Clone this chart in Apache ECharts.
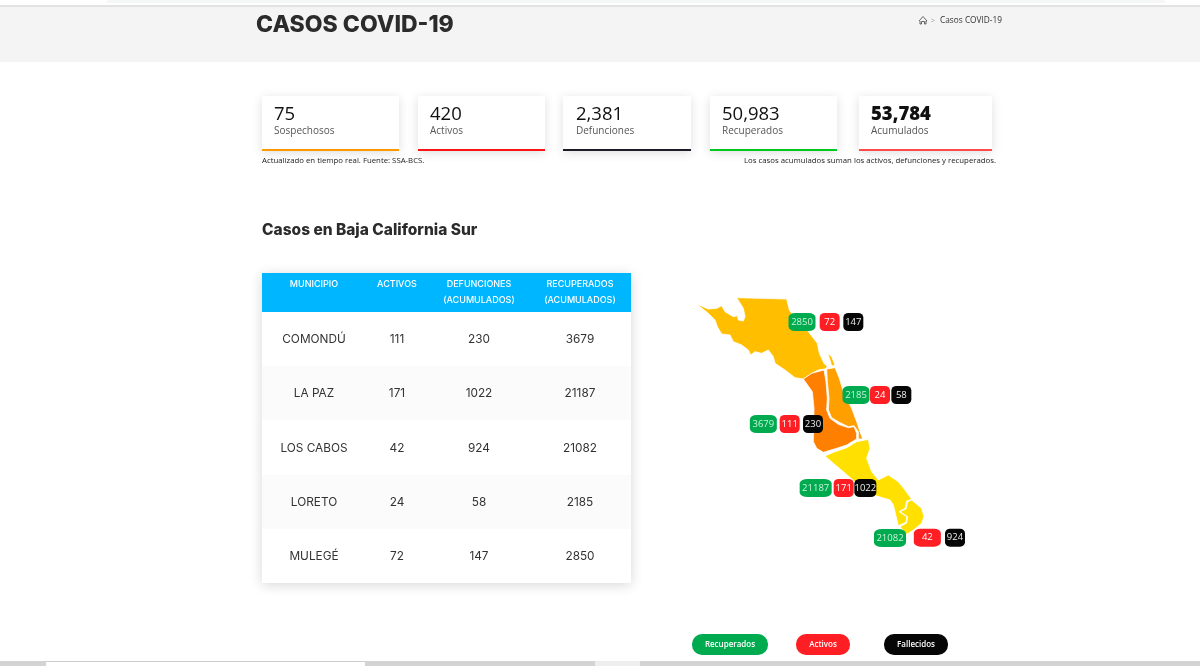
<!DOCTYPE html>
<html>
<head>
<meta charset="utf-8">
<title>Casos COVID-19</title>
<script src="https://cdn.jsdelivr.net/npm/echarts@6/dist/echarts.min.js"></script>
<style>
html, body { margin: 0; padding: 0; background: #fff; overflow: hidden; }
#main { width: 1200px; height: 666px; }
</style>
</head>
<body>
<div id="main"></div>
<script>
// datos
var municipios = ['COMONDÚ', 'LA PAZ', 'LOS CABOS', 'LORETO', 'MULEGÉ'];
var activos = [111, 171, 42, 24, 72];
var defunciones = [230, 1022, 924, 58, 147];
var recuperados = [3679, 21187, 21082, 2185, 2850];

var cardLabels = ['Sospechosos', 'Activos', 'Defunciones', 'Recuperados', 'Acumulados'];
var cardValues = ['75', '420', '2,381', '50,983', '53,784'];
var tableHead = [['MUNICIPIO'], ['ACTIVOS'], ['DEFUNCIONES', '(ACUMULADOS)'], ['RECUPERADOS', '(ACUMULADOS)']];
var legendNames = ['Recuperados', 'Activos', 'Fallecidos'];

// contornos de los municipios (x, y en unidades del mapa)
var shapeMulege = [[50,57],[85,72],[110,70],[125,62],[135,80],[160,95],[172,92],[175,105],[190,108],[195,95],[190,70],[170,38],[320,42],[328,75],[345,100],[385,140],[412,175],[418,205],[432,235],[442,245],[435,252],[415,255],[395,265],[370,282],[345,278],[315,255],[285,235],[280,215],[265,195],[245,205],[225,200],[212,210],[205,195],[185,180],[160,170],[150,150],[125,147],[112,125],[105,105],[85,85]];
var shapeIsla = [[443,205],[455,215],[465,240],[455,243],[450,225]];
var shapeComondu = [[370,282],[395,265],[432,255],[438,290],[442,340],[440,375],[450,400],[475,418],[505,428],[522,425],[530,445],[530,462],[500,480],[470,490],[430,502],[410,490],[400,470],[402,370],[397,320]];
var shapeLoreto = [[440,252],[465,248],[478,280],[490,320],[515,370],[530,410],[540,440],[548,462],[535,462],[535,440],[522,422],[505,425],[478,412],[455,398],[445,375],[447,340],[442,290]];
var shapeLaPaz = [[435,513],[465,500],[500,488],[530,470],[565,463],[570,490],[560,520],[575,560],[595,585],[625,570],[655,590],[675,615],[695,643],[680,648],[675,670],[657,680],[680,695],[678,712],[655,722],[640,660],[630,645],[580,630],[530,595],[490,560],[460,535]];
var shapeCabos = [[695,645],[725,670],[732,695],[725,715],[700,735],[680,748],[660,725],[680,714],[683,695],[660,680],[678,672],[683,650]];

function flip(ring) {
    return ring.map(function (p) { return [p[0], -p[1]]; });
}
function feature(name, rings) {
    return {
        type: 'Feature',
        properties: { name: name },
        geometry: { type: 'MultiPolygon', coordinates: rings.map(function (r) { return [flip(r)]; }) }
    };
}
echarts.registerMap('bcs', {
    type: 'FeatureCollection',
    features: [
        feature('MULEGÉ', [shapeMulege, shapeIsla]),
        feature('LORETO', [shapeLoreto]),
        feature('COMONDÚ', [shapeComondu]),
        feature('LA PAZ', [shapeLaPaz]),
        feature('LOS CABOS', [shapeCabos])
    ]
});

var regionColors = { 'MULEGÉ': '#FFBF00', 'LORETO': '#FF9F00', 'COMONDÚ': '#FF7F00', 'LA PAZ': '#FFE000', 'LOS CABOS': '#FFE000' };

// donde va cada etiqueta, en unidades del mapa
var pillAnchors = {
    'COMONDÚ': [[250, 417], [329, 417], [399, 417]],
    'LA PAZ': [[407, 609], [491, 609], [556, 609]],
    'LOS CABOS': [[630, 759], [742, 758], [825, 758]],
    'LORETO': [[528, 330], [600, 330], [664, 330]],
    'MULEGÉ': [[366, 111], [449, 111], [520, 111]]
};

function pillData(values, slot) {
    return values.map(function (v, i) {
        var a = pillAnchors[municipios[i]][slot];
        var w = 20;
        if (slot === 0) w = String(v).length > 4 ? 32 : 27;
        if (municipios[i] === 'LOS CABOS' && slot === 1) w = 27;
        if (slot === 2 && String(v).length > 3) w = 22;
        return { value: [a[0], -a[1], v], symbolSize: [w, 18] };
    });
}
function pillSeries(name, values, slot, color, textColor) {
    return {
        name: name,
        type: 'scatter',
        coordinateSystem: 'geo',
        geoIndex: 0,
        symbol: 'roundRect',
        silent: true,
        z: 5,
        data: pillData(values, slot),
        itemStyle: { color: color, opacity: 1 },
        label: {
            show: true,
            position: 'inside',
            color: textColor,
            fontFamily: 'Open Sans',
            fontSize: 9.5,
            formatter: function (p) { return p.value[2]; }
        }
    };
}

// elementos de la pagina
var g = [];
function rect(x, y, w, h, fill, extra) {
    var style = { fill: fill };
    var r = 0;
    if (extra) {
        for (var k in extra) {
            if (k === 'r') r = extra[k]; else style[k] = extra[k];
        }
    }
    g.push({ type: 'rect', silent: true, shape: { x: x, y: y, width: w, height: h, r: r }, style: style });
}
function text(x, y, str, font, color, align) {
    g.push({
        type: 'text', silent: true, x: x, y: y,
        style: { text: str, font: font, fill: color, textAlign: align || 'left', textVerticalAlign: 'middle' }
    });
}

// franja superior
rect(107, 0, 1058, 3, '#F4F7F6', { r: 2 });
rect(0, 5, 1200, 2, '#E2E2E2');
rect(0, 7, 1200, 55, '#F4F4F4');
text(256, 25, 'CASOS COVID-19', '800 23px Inter', '#2B2B2B');
text(940, 21, 'Casos COVID-19', '8.3px "Open Sans"', '#333');
text(931, 21, '>', '7px "Open Sans"', '#999');
g.push({
    type: 'polyline', silent: true,
    shape: { points: [[919, 21], [923, 16.5], [927, 21], [926, 21], [926, 24], [924.5, 24], [924.5, 21.5], [921.5, 21.5], [921.5, 24], [920, 24], [920, 21]] },
    style: { stroke: '#444', fill: null, lineWidth: 0.8 }
});

// tarjetas
var cardX = [262, 418, 563, 710, 859];
var cardW = [137, 127, 128, 127, 133];
var cardTextX = [274, 430, 576, 722, 871];
var cardLine = ['#FF9900', '#FF1414', '#1C1C28', '#00C81E', '#FF4A4A'];
cardLabels.forEach(function (label, i) {
    rect(cardX[i], 96, cardW[i], 55, '#fff', { shadowBlur: 10, shadowColor: 'rgba(0,0,0,0.13)', shadowOffsetY: 2 });
    rect(cardX[i], 149, cardW[i], 2, cardLine[i]);
    text(cardTextX[i], 114.5, cardValues[i], (i === 4 ? '800' : '500') + ' 18.5px "Open Sans"', '#111');
    text(cardTextX[i], 131.5, label, '10px "Open Sans"', '#555');
});
text(262, 161, 'Actualizado en tiempo real. Fuente: SSA-BCS.', '7.8px "Open Sans"', '#222');
text(996, 161, 'Los casos acumulados suman los activos, defunciones y recuperados.', '7.8px "Open Sans"', '#222', 'right');

text(262, 230, 'Casos en Baja California Sur', '800 15.5px Inter', '#2B2B2B');

// tabla
var colX = [314, 397, 479, 580];
var rowY = [312, 366, 420, 475, 529, 583];
rect(262, 273, 369, 310, '#fff', { shadowBlur: 12, shadowColor: 'rgba(0,0,0,0.16)', shadowOffsetY: 2 });
rect(262, 273, 369, 39, '#00B6FF');
tableHead.forEach(function (lines, c) {
    lines.forEach(function (line, k) {
        text(colX[c], 284 + k * 16, line, '500 9px Inter', '#fff', 'center');
    });
});
municipios.forEach(function (name, i) {
    if (i % 2 === 1) rect(262, rowY[i], 369, rowY[i + 1] - rowY[i], '#FBFBFB');
    var y = (rowY[i] + rowY[i + 1]) / 2 + 0.5;
    var row = [name, activos[i], defunciones[i], recuperados[i]];
    row.forEach(function (v, c) {
        text(colX[c], y, String(v), '11.8px Inter', '#333', 'center');
    });
});

// leyenda
var legX = [692, 796, 884];
var legW = [76, 54, 64];
var legColor = ['#00AB4F', '#FF1E23', '#060606'];
legendNames.forEach(function (name, i) {
    rect(legX[i], 634, legW[i], 21, legColor[i], { r: 10 });
    text(legX[i] + legW[i] / 2, 645, name, '600 8px "Open Sans"', '#fff', 'center');
});

// franja inferior
rect(0, 661, 46, 5, '#D3D3D3');
rect(46, 661, 319, 1, '#CCCCCC');
rect(365, 661, 230, 5, '#D3D3D3');
rect(595, 661, 45, 5, '#EEEEEE');
rect(640, 661, 560, 5, '#D3D3D3');

var myChart = echarts.init(document.getElementById('main'));

// caja del mapa a partir de los contornos
var allPts = [].concat(shapeMulege, shapeIsla, shapeComondu, shapeLoreto, shapeLaPaz, shapeCabos);
var xs = allPts.map(function (p) { return p[0]; });
var ys = allPts.map(function (p) { return p[1]; });
var minX = Math.min.apply(null, xs), maxX = Math.max.apply(null, xs);
var minY = Math.min.apply(null, ys), maxY = Math.max.apply(null, ys);

var option = {
    animation: false,
    backgroundColor: '#fff',
    graphic: { elements: g },
    geo: {
        map: 'bcs',
        silent: true,
        roam: false,
        aspectScale: 1,
        left: 680 + minX / 3,
        top: 285 + minY / 3,
        width: (maxX - minX) / 3,
        height: (maxY - minY) / 3,
        label: { show: false },
        itemStyle: { borderColor: '#fff', borderWidth: 0.8 },
        regions: Object.keys(regionColors).map(function (name) {
            return { name: name, itemStyle: { areaColor: regionColors[name] } };
        })
    },
    series: [
        pillSeries('Recuperados', recuperados, 0, '#00AB4F', '#C9F2DA'),
        pillSeries('Activos', activos, 1, '#FF1E23', '#fff'),
        pillSeries('Fallecidos', defunciones, 2, '#060606', '#eee')
    ]
};
myChart.setOption(option);
</script>
</body>
</html>
